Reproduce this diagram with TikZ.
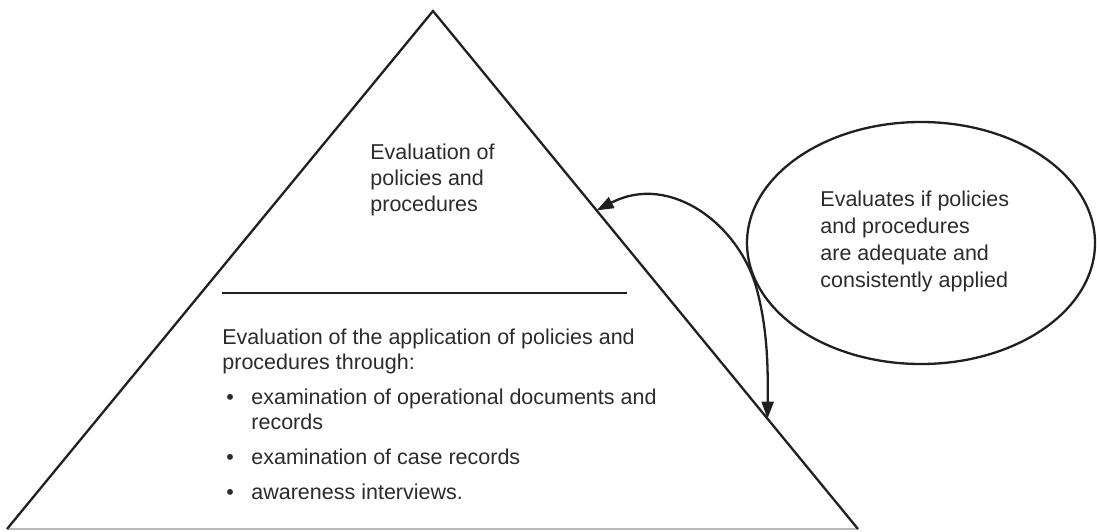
\documentclass[tikz,border=0pt]{standalone}
\usepackage{fontspec}
\setmainfont{Liberation Sans}
\usetikzlibrary{arrows.meta,shapes.geometric,calc}
\definecolor{ink}{HTML}{231F20}
\definecolor{txtgray}{HTML}{2B2B2B}
\begin{document}
\begin{tikzpicture}[x=0.5pt,y=-0.5pt,
  edge/.style={draw=ink,line width=1.15pt,line join=miter},
  txt/.style={anchor=base west,inner sep=0pt,text=txtgray,font=\fontsize{10.75pt}{13pt}\selectfont},
  bigarrow/.style={draw=ink,line width=1.15pt,{Triangle[length=8.5pt,width=6pt]}-{Triangle[length=8.5pt,width=6pt]}}]
\path[use as bounding box] (0,0) rectangle (1097,531);

% pyramid
\coordinate (apex) at (433,11);
\coordinate (bl) at (7,529);
\coordinate (br) at (858,529);
\draw[gray!55,line width=0.6pt] (bl) -- (br);
\draw[edge] (bl) -- (apex) -- (br);

% divider between the two levels
\coordinate (ruleL) at (222,293);
\coordinate (ruleR) at (627,293);
\draw[edge] (ruleL) -- (ruleR);

% upper level
\node[txt] (top1) at (370,159) {Evaluation of};
\node[txt] (top2) at (370,185) {policies and};
\node[txt] (top3) at (370,211) {procedures};

% lower level
\node[txt] (low1) at (222,344) {Evaluation of the application of policies and};
\node[txt] (low2) at (222,369) {procedures through:};
\node[txt] (b1) at (226,404) {•};
\node[txt] (i1a) at (251,404) {examination of operational documents and};
\node[txt] (i1b) at (251,429) {records};
\node[txt] (b2) at (226,464) {•};
\node[txt] (i2) at (251,464) {examination of case records};
\node[txt] (b3) at (226,499) {•};
\node[txt] (i3) at (251,499) {awareness interviews.};

% side note
\node[draw=ink,line width=1.15pt,ellipse,minimum width=174pt,minimum height=121pt,inner sep=0pt] (bubble) at (921,243) {};
\node[txt] (n1) at (820,206) {Evaluates if policies};
\node[txt] (n2) at (820,233) {and procedures};
\node[txt] (n3) at (820,260) {are adequate and};
\node[txt] (n4) at (820,287) {consistently applied};

% double-headed connector onto the pyramid face
\coordinate (t1) at ($(apex)!0.385!(br)$);
\coordinate (t2) at ($(apex)!0.787!(br)$);
\draw[bigarrow] (t1) .. controls (670,172) and (740,225) .. (757,290)
  .. controls (768,332) and (768,370) .. (t2);
\end{tikzpicture}
\end{document}
